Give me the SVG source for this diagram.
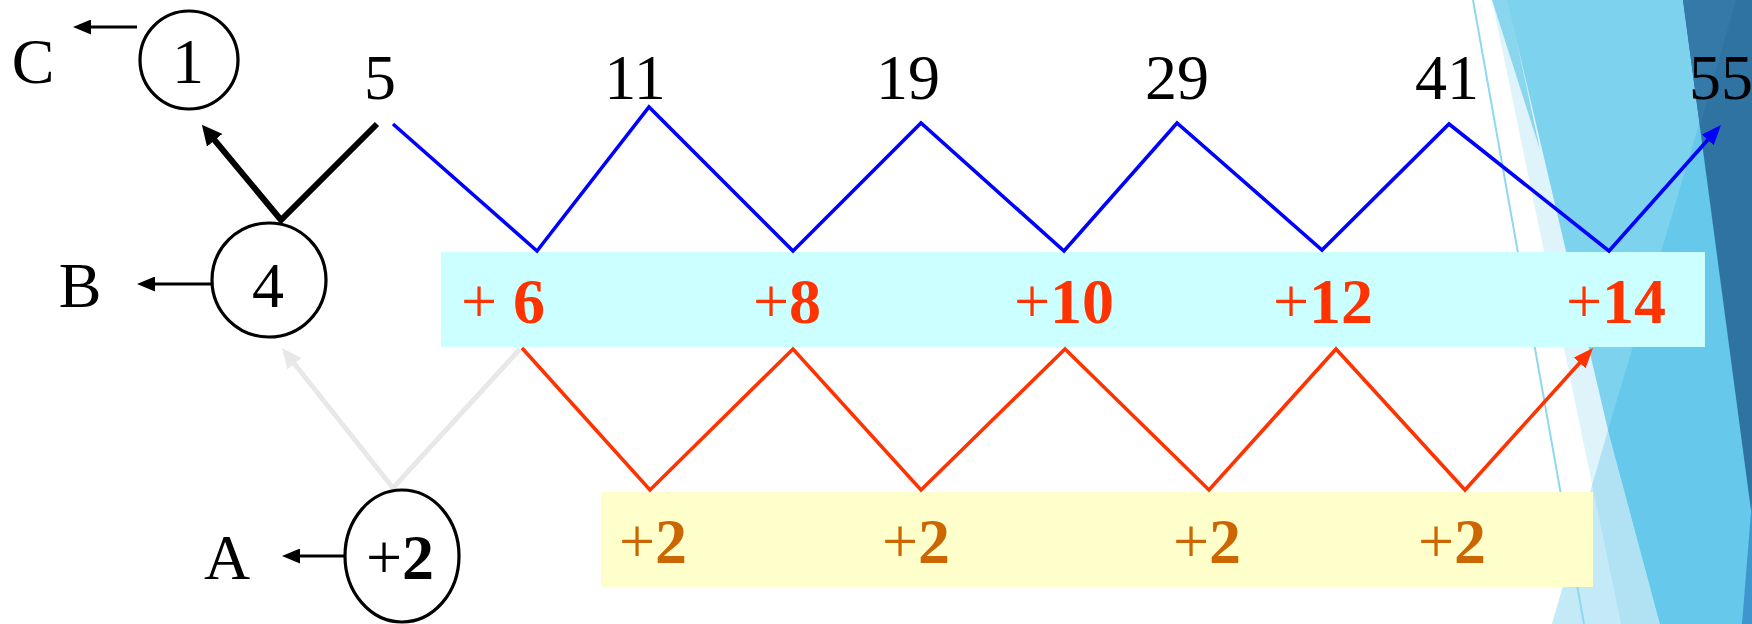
<svg xmlns="http://www.w3.org/2000/svg" width="1752" height="624" viewBox="0 0 1752 624">
<style>
text{font-family:"Liberation Serif","Times New Roman",serif;font-size:64px;}
.num{fill:#000;text-anchor:middle;}
.b{font-weight:bold;}
.red{fill:#FF3300;text-anchor:middle;}
.org{fill:#CC6600;text-anchor:middle;}
.node{fill:#fff;stroke:#000;stroke-width:3.2;}
.thin{fill:none;stroke:#000;stroke-width:3;}
.blue{fill:none;stroke:#0000FF;stroke-width:3.6;stroke-linejoin:miter;stroke-miterlimit:20;}
.redl{fill:none;stroke:#FF3300;stroke-width:3.6;stroke-linejoin:miter;stroke-miterlimit:20;}
</style>
<defs>
<marker id="aBlack" markerUnits="userSpaceOnUse" markerWidth="18" markerHeight="15" refX="12" refY="7.5" orient="auto"><path d="M0,0 L18,7.5 L0,15 z" fill="#000"/></marker>
<marker id="aThick" markerUnits="userSpaceOnUse" markerWidth="20" markerHeight="20" refX="12" refY="10" orient="auto"><path d="M0,0 L20,10 L0,20 z" fill="#000"/></marker>
<marker id="aBlue" markerUnits="userSpaceOnUse" markerWidth="20" markerHeight="16" refX="14" refY="8" orient="auto"><path d="M0,0 L20,8 L0,16 z" fill="#0000FF"/></marker>
<marker id="aRed" markerUnits="userSpaceOnUse" markerWidth="20" markerHeight="16" refX="14" refY="8" orient="auto"><path d="M0,0 L20,8 L0,16 z" fill="#FF3300"/></marker>
<marker id="aGrey" markerUnits="userSpaceOnUse" markerWidth="20" markerHeight="18" refX="14" refY="9" orient="auto"><path d="M0,0 L20,9 L0,18 z" fill="#E8E8E8"/></marker>
</defs>
<rect width="1752" height="624" fill="#fff"/>
<g id="background">
<polygon points="1492,0 1752,0 1752,624 1621,624" fill="#DFF3FA"/>
<polygon points="1492,0 1508,0 1540,150" fill="#8AD6EF"/>
<polygon points="1507,0 1752,0 1752,624 1660,624 1608,430" fill="#7DD3EE"/>
<polygon points="1736,0 1752,0 1752,624 1660,624 1608,430" fill="#66C9EB"/>
<polygon points="1608,430 1660,624 1552,624" fill="#56C3E9" fill-opacity="0.344"/>
<polygon points="1683,0 1752,0 1752,518" fill="#2F73A2"/>
<polygon points="1683,0 1736,0 1700,126" fill="#3479A8"/>
<polygon points="1752,500 1752,624 1742,624" fill="#3F96CF"/>
<line x1="1473" y1="0" x2="1584" y2="624" stroke="#8ED8F0" stroke-width="2"/>
</g>
<g id="boxes">
<rect id="diff1-box" x="441" y="252" width="1264" height="95" fill="#CCFFFF"/>
<rect id="diff2-box" x="601" y="492" width="992" height="95" fill="#FFFFCC"/>
</g>
<g id="connectors">
<polyline points="520,349 393,488 285.7,352.7" fill="none" stroke="#E8E8E8" stroke-width="5" marker-end="url(#aGrey)"/>
<polyline points="377,124 281,220 207,131" fill="none" stroke="#000" stroke-width="6" marker-end="url(#aThick)"/>
<line class="thin" x1="137" y1="27" x2="79" y2="27" marker-end="url(#aBlack)"/>
<line class="thin" x1="217" y1="284" x2="143" y2="284" marker-end="url(#aBlack)"/>
<line class="thin" x1="344" y1="556" x2="288" y2="556" marker-end="url(#aBlack)"/>
<polyline class="blue" points="393,124 537,251 649,107 793,251 921,123 1064,251 1177,123 1322,250 1449,124 1609,251 1717,129.5" marker-end="url(#aBlue)"/>
<polyline class="redl" points="522,348 650,490 793,349 921,490 1065,349 1209,490 1336,349 1465,490 1589,352.5" marker-end="url(#aRed)"/>
</g>
<g id="nodeC">
<circle class="node" cx="189" cy="60" r="49"/>
<text class="num" x="188" y="83">1</text>
<text class="num" x="33" y="83">C</text>
</g>
<g id="nodeB">
<circle class="node" cx="269" cy="280" r="57"/>
<text class="num" x="268" y="307">4</text>
<text class="num" x="80" y="307">B</text>
</g>
<g id="nodeA">
<ellipse class="node" cx="402" cy="556" rx="57" ry="66"/>
<text class="num" x="400" y="579">+<tspan class="b">2</tspan></text>
<text class="num" x="227" y="579">A</text>
</g>
<g id="sequence">
<text class="num" x="380" y="99">5</text>
<text class="num" x="635" y="99">11</text>
<text class="num" x="908" y="99">19</text>
<text class="num" x="1177" y="99">29</text>
<text class="num" x="1447" y="99">41</text>
<text class="num" x="1721" y="99">55</text>
</g>
<g id="diff1">
<text class="red" x="503" y="323">+ <tspan class="b">6</tspan></text>
<text class="red" x="787" y="323">+<tspan class="b">8</tspan></text>
<text class="red" x="1064" y="323">+<tspan class="b">10</tspan></text>
<text class="red" x="1323" y="323">+<tspan class="b">12</tspan></text>
<text class="red" x="1616" y="323">+<tspan class="b">14</tspan></text>
</g>
<g id="diff2">
<text class="org" x="653" y="563">+<tspan class="b">2</tspan></text>
<text class="org" x="916" y="563">+<tspan class="b">2</tspan></text>
<text class="org" x="1207" y="563">+<tspan class="b">2</tspan></text>
<text class="org" x="1452" y="563">+<tspan class="b">2</tspan></text>
</g>
</svg>
